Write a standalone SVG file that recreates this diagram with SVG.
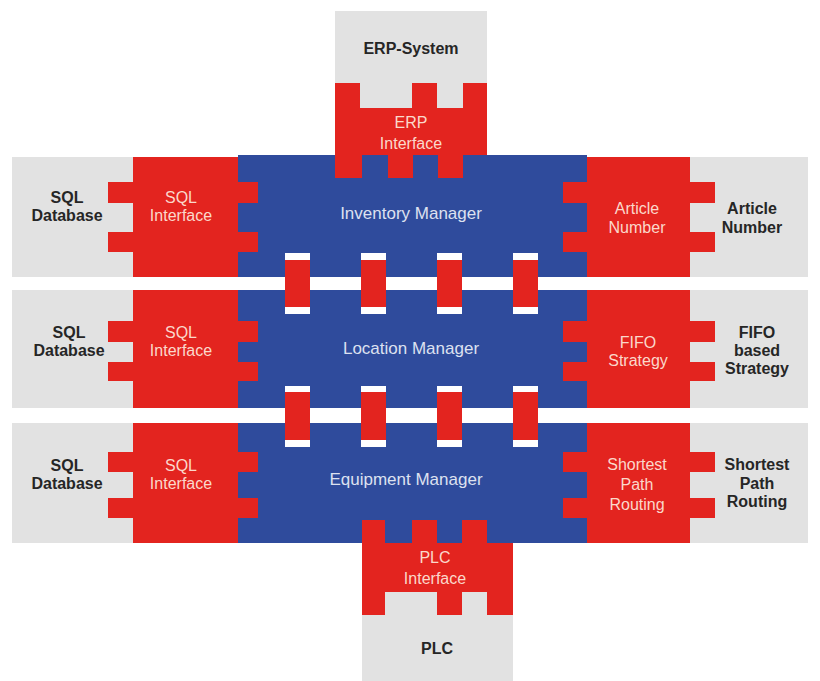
<svg xmlns="http://www.w3.org/2000/svg" width="820" height="681" viewBox="0 0 820 681">
<style>
.gray{fill:#e2e2e2}
.red{fill:#e3241f}
.blue{fill:#2f4b9c}
.gap{fill:#ffffff}
.cap{fill:#ffffff}
.lbl{font-family:"Liberation Sans",Arial,sans-serif;font-size:16px;font-weight:bold;fill:#262626;text-anchor:middle}
.rl{font-family:"Liberation Sans",Arial,sans-serif;font-size:16px;fill:#fbd8cb;text-anchor:middle}
.bl{font-family:"Liberation Sans",Arial,sans-serif;font-size:17px;fill:#dde1f0;text-anchor:middle}
</style>
<rect width="820" height="681" fill="#ffffff"/>
<g id="erp-system">
<rect class="gray" x="335" y="11" width="152" height="110"/>
<text class="lbl" x="411" y="54">ERP-System</text>
</g>
<g id="plc">
<rect class="gray" x="362" y="585" width="151" height="96"/>
<text class="lbl" x="437" y="654">PLC</text>
</g>
<g id="sql-db-1">
<rect class="gray" x="12" y="157" width="796" height="120"/>
<text class="lbl" x="67" y="203">SQL</text>
<text class="lbl" x="67" y="221">Database</text>
</g>
<g id="sql-db-2">
<rect class="gray" x="12" y="290" width="796" height="118"/>
<text class="lbl" x="69" y="338">SQL</text>
<text class="lbl" x="69" y="356">Database</text>
</g>
<g id="sql-db-3">
<rect class="gray" x="12" y="423" width="796" height="120"/>
<text class="lbl" x="67" y="471">SQL</text>
<text class="lbl" x="67" y="489">Database</text>
</g>
<g id="managers">
<rect class="blue" x="238" y="155" width="349" height="388"/>
</g>
<g id="erp-interface">
<path class="red" d="M335,83 H360 V108 H412 V83 H437 V108 H463 V83 H487 V155 H463 V178 H438 V155 H413 V178 H388 V155 H362 V178 H335 Z"/>
<text class="rl" x="411" y="128">ERP</text>
<text class="rl" x="411" y="149">Interface</text>
</g>
<g id="plc-interface">
<path class="red" d="M362,520 H385 V543 H412 V520 H437 V543 H462 V520 H487 V543 H513 V615 H487 V592 H462 V615 H437 V592 H385 V615 H362 Z"/>
<text class="rl" x="435" y="563">PLC</text>
<text class="rl" x="435" y="584">Interface</text>
</g>
<g id="sql-interface-1">
<path class="red" d="M133,157 H238 V182 H258 V203 H238 V232 H258 V252 H238 V277 H133 V252 H108 V232 H133 V203 H108 V182 H133 Z"/>
<text class="rl" x="181" y="203">SQL</text>
<text class="rl" x="181" y="221">Interface</text>
</g>
<g id="sql-interface-2">
<path class="red" d="M133,290 H238 V321 H258 V342 H238 V362 H258 V381 H238 V408 H133 V381 H108 V362 H133 V342 H108 V321 H133 Z"/>
<text class="rl" x="181" y="338">SQL</text>
<text class="rl" x="181" y="356">Interface</text>
</g>
<g id="sql-interface-3">
<path class="red" d="M133,423 H238 V452 H258 V472 H238 V498 H258 V518 H238 V543 H133 V518 H108 V498 H133 V472 H108 V452 H133 Z"/>
<text class="rl" x="181" y="471">SQL</text>
<text class="rl" x="181" y="489">Interface</text>
</g>
<g id="article-number">
<path class="red" d="M587,157 H690 V182 H715 V203 H690 V232 H715 V252 H690 V277 H587 V252 H563 V232 H587 V203 H563 V182 H587 Z"/>
<text class="rl" x="637" y="214">Article</text>
<text class="rl" x="637" y="233">Number</text>
<text class="lbl" x="752" y="214">Article</text>
<text class="lbl" x="752" y="233">Number</text>
</g>
<g id="fifo-strategy">
<path class="red" d="M587,290 H690 V321 H715 V342 H690 V362 H715 V381 H690 V408 H587 V381 H563 V362 H587 V342 H563 V321 H587 Z"/>
<text class="rl" x="638" y="348">FIFO</text>
<text class="rl" x="638" y="366">Strategy</text>
<text class="lbl" x="757" y="338">FIFO</text>
<text class="lbl" x="757" y="356">based</text>
<text class="lbl" x="757" y="374">Strategy</text>
</g>
<g id="shortest-path">
<path class="red" d="M587,423 H690 V452 H715 V472 H690 V498 H715 V518 H690 V543 H587 V518 H563 V498 H587 V472 H563 V452 H587 Z"/>
<text class="rl" x="637" y="470">Shortest</text>
<text class="rl" x="637" y="490">Path</text>
<text class="rl" x="637" y="510">Routing</text>
<text class="lbl" x="757" y="470">Shortest</text>
<text class="lbl" x="757" y="489">Path</text>
<text class="lbl" x="757" y="507">Routing</text>
</g>
<g id="manager-labels">
<text class="bl" x="411" y="219">Inventory Manager</text>
<text class="bl" x="411" y="354">Location Manager</text>
<text class="bl" x="406" y="485">Equipment Manager</text>
</g>
<g id="separators">
<rect class="gap" x="0" y="277" width="820" height="13"/>
<rect class="gap" x="0" y="408" width="820" height="15"/>
</g>
<g id="connectors">
<g id="link-1">
<rect class="cap" x="285" y="253" width="25" height="7"/><rect class="red" x="285" y="260" width="25" height="47"/><rect class="cap" x="285" y="307" width="25" height="7"/>
<rect class="cap" x="361" y="253" width="25" height="7"/><rect class="red" x="361" y="260" width="25" height="47"/><rect class="cap" x="361" y="307" width="25" height="7"/>
<rect class="cap" x="437" y="253" width="25" height="7"/><rect class="red" x="437" y="260" width="25" height="47"/><rect class="cap" x="437" y="307" width="25" height="7"/>
<rect class="cap" x="513" y="253" width="25" height="7"/><rect class="red" x="513" y="260" width="25" height="47"/><rect class="cap" x="513" y="307" width="25" height="7"/>
</g>
<g id="link-2">
<rect class="cap" x="285" y="386" width="25" height="6"/><rect class="red" x="285" y="392" width="25" height="48"/><rect class="cap" x="285" y="440" width="25" height="7"/>
<rect class="cap" x="361" y="386" width="25" height="6"/><rect class="red" x="361" y="392" width="25" height="48"/><rect class="cap" x="361" y="440" width="25" height="7"/>
<rect class="cap" x="437" y="386" width="25" height="6"/><rect class="red" x="437" y="392" width="25" height="48"/><rect class="cap" x="437" y="440" width="25" height="7"/>
<rect class="cap" x="513" y="386" width="25" height="6"/><rect class="red" x="513" y="392" width="25" height="48"/><rect class="cap" x="513" y="440" width="25" height="7"/>
</g>
</g>
</svg>
